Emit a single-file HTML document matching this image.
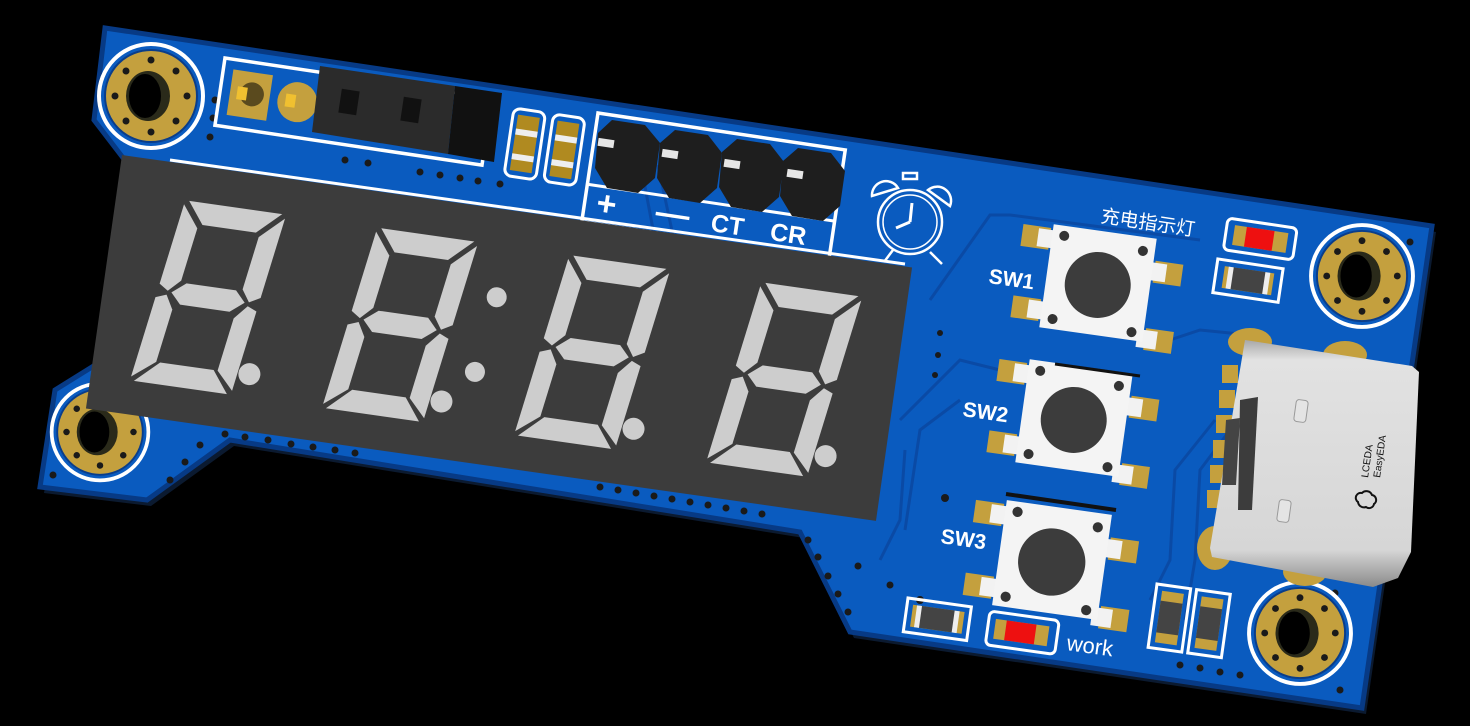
<!DOCTYPE html>
<html><head><meta charset="utf-8"><style>
html,body{margin:0;padding:0;background:#000;}
svg{display:block;}
</style></head><body>
<svg width="1470" height="726" viewBox="0 0 1470 726" xmlns="http://www.w3.org/2000/svg">
<defs>
<linearGradient id="usb" x1="0" y1="0" x2="0" y2="1">
<stop offset="0" stop-color="#a8a8a8"/><stop offset="0.08" stop-color="#e2e2e2"/><stop offset="0.85" stop-color="#d6d6d6"/><stop offset="1" stop-color="#8a8a8a"/>
</linearGradient>
<g id="seg">
<polygon points="4,0 98,0 78,22 24,22"/>
<polygon points="102,4 102,86 92,92 82,80 82,26"/>
<polygon points="102,100 102,182 82,164 82,110 92,96"/>
<polygon points="4,186 98,186 78,164 24,164"/>
<polygon points="0,100 0,182 20,164 20,110 10,96"/>
<polygon points="0,4 0,86 10,92 20,80 20,26"/>
<polygon points="14,93 26,82 76,82 88,93 76,104 26,104"/>
</g>
<g id="hole">
<circle r="52" fill="none" stroke="#fff" stroke-width="4"/>
<circle r="46" fill="#c4a03e" stroke="#0a3d8a" stroke-width="2"/>
<ellipse cx="-3" cy="0" rx="22" ry="25" fill="#2a2a1a"/>
<ellipse cx="-6" cy="0" rx="16" ry="22" fill="#000"/>
<g fill="#1a1a1a"><circle cx="0" cy="-36" r="3.5"/><circle cx="25" cy="-25" r="3.5"/><circle cx="36" cy="0" r="3.5"/><circle cx="25" cy="25" r="3.5"/><circle cx="0" cy="36" r="3.5"/><circle cx="-25" cy="25" r="3.5"/><circle cx="-36" cy="0" r="3.5"/><circle cx="-25" cy="-25" r="3.5"/></g>
</g>
<g id="sw">
<rect x="-82" y="-48" width="28" height="22" fill="#c4a03e"/>
<rect x="-82" y="24" width="28" height="22" fill="#c4a03e"/>
<rect x="54" y="-30" width="28" height="22" fill="#c4a03e"/>
<rect x="54" y="38" width="28" height="22" fill="#c4a03e"/>
<rect x="-66" y="-46" width="20" height="18" fill="#f2f2f2"/>
<rect x="-66" y="26" width="20" height="18" fill="#f2f2f2"/>
<rect x="46" y="-28" width="20" height="18" fill="#f2f2f2"/>
<rect x="46" y="40" width="20" height="18" fill="#f2f2f2"/>
<rect x="-52" y="-52" width="104" height="104" fill="#f4f4f4"/>
<circle cx="-40" cy="-42" r="5" fill="#333"/><circle cx="40" cy="-38" r="5" fill="#333"/>
<circle cx="-40" cy="42" r="5" fill="#333"/><circle cx="40" cy="44" r="5" fill="#333"/>
<circle cx="0" cy="2" r="33" fill="#3c3c3c"/>
</g>
</defs>

<!-- board shadow/edge -->
<polygon points="109,34 1436,232 1366,714 854,638 804,538 234,446 151,506 44,493 59,396 104,366 131,169 98,126" fill="#0b1a30"/>
<polygon points="105,28 1432,226 1362,708 850,632 800,532 230,440 147,500 40,487 55,390 100,362 127,163 94,120" fill="#0a5bbf" stroke="#073a85" stroke-width="5"/>

<!-- traces -->
<g fill="none" stroke="#0a4aa5" stroke-width="3">
<path d="M930,300 L990,215 L1010,215 L1200,240"/>
<path d="M900,420 L960,360 L1000,370"/>
<path d="M905,530 L920,430 L960,400"/>
<path d="M1170,340 L1200,330 L1250,335"/>
<path d="M1185,620 L1195,560 L1200,470 L1230,430"/>
<path d="M1150,600 L1170,560 L1175,470 L1215,420"/>
<path d="M880,560 L900,520 L905,450"/>
<path d="M380,440 L800,505"/>
<path d="M640,160 L655,240"/><path d="M658,165 L675,245"/>
</g>

<!-- vias -->
<g fill="#1a1a1a">
<circle cx="215" cy="100" r="3.5"/><circle cx="213" cy="118" r="3.5"/><circle cx="210" cy="137" r="3.5"/>
<circle cx="345" cy="160" r="3.5"/><circle cx="368" cy="163" r="3.5"/><circle cx="420" cy="172" r="3.5"/><circle cx="440" cy="175" r="3.5"/><circle cx="460" cy="178" r="3.5"/><circle cx="478" cy="181" r="3.5"/><circle cx="500" cy="184" r="3.5"/>
<circle cx="225" cy="434" r="3.5"/><circle cx="245" cy="437" r="3.5"/><circle cx="268" cy="440" r="3.5"/><circle cx="291" cy="444" r="3.5"/><circle cx="313" cy="447" r="3.5"/><circle cx="335" cy="450" r="3.5"/><circle cx="355" cy="453" r="3.5"/>
<circle cx="200" cy="445" r="3.5"/><circle cx="185" cy="462" r="3.5"/><circle cx="170" cy="480" r="3.5"/><circle cx="53" cy="475" r="3.5"/>
<circle cx="600" cy="487" r="3.5"/><circle cx="618" cy="490" r="3.5"/><circle cx="636" cy="493" r="3.5"/><circle cx="654" cy="496" r="3.5"/><circle cx="672" cy="499" r="3.5"/><circle cx="690" cy="502" r="3.5"/><circle cx="708" cy="505" r="3.5"/><circle cx="726" cy="508" r="3.5"/><circle cx="744" cy="511" r="3.5"/><circle cx="762" cy="514" r="3.5"/>
<circle cx="808" cy="540" r="3.5"/><circle cx="818" cy="557" r="3.5"/><circle cx="828" cy="576" r="3.5"/><circle cx="838" cy="594" r="3.5"/><circle cx="848" cy="612" r="3.5"/><circle cx="858" cy="566" r="3.5"/>
<circle cx="1180" cy="665" r="3.5"/><circle cx="1200" cy="668" r="3.5"/><circle cx="1220" cy="672" r="3.5"/><circle cx="1240" cy="675" r="3.5"/>
<circle cx="1410" cy="242" r="3.5"/><circle cx="1335" cy="593" r="3.5"/><circle cx="1340" cy="690" r="3.5"/>
<circle cx="940" cy="333" r="3"/><circle cx="938" cy="355" r="3"/><circle cx="935" cy="375" r="3"/><circle cx="920" cy="600" r="4"/><circle cx="945" cy="498" r="4"/><circle cx="890" cy="585" r="3.5"/>
</g>

<!-- mount holes -->
<use href="#hole" transform="translate(151,96)"/>
<use href="#hole" transform="translate(100,432) scale(0.93)"/>
<use href="#hole" transform="translate(1362,276) scale(0.98)"/>
<use href="#hole" transform="translate(1300,633) scale(0.98)"/>

<!-- jumper header -->
<g transform="translate(225,58) rotate(8.5)">
<rect x="0" y="0" width="270" height="68" fill="none" stroke="#fff" stroke-width="3.5"/>
<rect x="10" y="10" width="40" height="46" fill="#c4a03e"/>
<circle cx="32" cy="32" r="12" fill="#5a4a1e"/><rect x="17" y="26" width="10" height="13" fill="#f0c030"/>
<circle cx="78" cy="33" r="20" fill="#c4a03e"/><rect x="66" y="26" width="10" height="13" fill="#f0c030"/>
</g>
<polygon points="320,66 455,86 448,154 312,132" fill="#2b2b2b"/>
<polygon points="455,86 502,93 494,162 448,154" fill="#111"/>
<rect x="340" y="90" width="18" height="24" fill="#111" transform="rotate(8.5 349 102)"/>
<rect x="402" y="98" width="18" height="24" fill="#111" transform="rotate(8.5 411 110)"/>

<!-- caps -->
<g transform="translate(514,108) rotate(8.5)">
<rect x="0" y="0" width="32" height="68" rx="7" fill="#0a5bbf" stroke="#fff" stroke-width="3"/>
<rect x="5" y="6" width="22" height="56" fill="#b08a20"/><rect x="5" y="20" width="22" height="6" fill="#eee"/><rect x="5" y="45" width="22" height="6" fill="#eee"/>
<rect x="40" y="0" width="32" height="68" rx="7" fill="#0a5bbf" stroke="#fff" stroke-width="3"/>
<rect x="45" y="6" width="22" height="56" fill="#b08a20"/><rect x="45" y="20" width="22" height="6" fill="#eee"/><rect x="45" y="45" width="22" height="6" fill="#eee"/>
</g>

<!-- 4-pin header & labels -->
<g transform="translate(598,113) rotate(8.5)">
<rect x="0" y="0" width="250" height="110" fill="none" stroke="#fff" stroke-width="3.5"/>
<line x1="0" y1="72" x2="250" y2="72" stroke="#fff" stroke-width="3"/>
<g font-family="Liberation Sans, sans-serif" font-weight="bold" fill="#fff">
<text x="12" y="100" font-size="34">+</text>
<text x="72" y="100" font-size="34">—</text>
<text x="128" y="100" font-size="25">CT</text>
<text x="188" y="100" font-size="25">CR</text>
</g>
</g>
<g fill="#1e1e1e">
<polygon points="612,120 645,125 660,143 655,178 638,193 607,188 595,168 598,133"/>
<polygon points="675,130 708,135 722,153 717,188 700,203 669,198 657,178 660,143"/>
<polygon points="737,139 770,144 784,162 779,197 762,212 731,207 719,187 722,152"/>
<polygon points="798,148 831,153 845,171 840,206 823,221 792,216 780,196 783,161"/>
</g>
<g fill="#e6e6e6">
<rect x="598" y="139" width="16" height="8" transform="rotate(8.5 606 143)"/>
<rect x="662" y="150" width="16" height="8" transform="rotate(8.5 670 154)"/>
<rect x="724" y="160" width="16" height="8" transform="rotate(8.5 732 164)"/>
<rect x="787" y="170" width="16" height="8" transform="rotate(8.5 795 174)"/>
</g>

<!-- alarm clock -->
<g fill="none" stroke="#fff" stroke-width="2.5">
<circle cx="910" cy="222" r="32"/><circle cx="910" cy="222" r="27" stroke-width="1.5"/>
<path d="M910,222 L912,203 M910,222 L896,228" stroke-width="3"/>
<path d="M872,196 A14,14 0 0 1 898,188 Z"/><path d="M928,190 A14,14 0 0 1 950,206 Z"/>
<path d="M893,250 L884,262 M930,252 L942,264"/>
<rect x="903" y="173" width="14" height="6"/>
</g>

<!-- chinese label -->
<text x="1100" y="222" font-family="Liberation Sans, 'Noto Sans CJK SC', sans-serif" font-size="19" fill="#fff" transform="rotate(8.5 1100 222)">充电指示灯</text>

<!-- top right LED & resistor -->
<g transform="translate(1228,218) rotate(8.5)">
<rect x="0" y="0" width="70" height="32" rx="5" fill="none" stroke="#fff" stroke-width="3"/>
<rect x="8" y="6" width="54" height="20" fill="#c4a03e"/><rect x="20" y="6" width="28" height="20" fill="#ee1010"/>
<rect x="-4" y="42" width="66" height="34" fill="none" stroke="#fff" stroke-width="3"/>
<rect x="4" y="48" width="50" height="22" fill="#c4a03e"/><rect x="12" y="48" width="34" height="22" fill="#444"/><rect x="8" y="48" width="5" height="22" fill="#eee"/><rect x="45" y="48" width="5" height="22" fill="#eee"/>
</g>

<!-- switches -->
<use href="#sw" transform="translate(1098,283) rotate(8)"/>
<use href="#sw" transform="translate(1074,418) rotate(8)"/>
<use href="#sw" transform="translate(1052,560) rotate(8) scale(1.02)"/>
<line x1="1055" y1="364" x2="1140" y2="376" stroke="#111" stroke-width="3"/>
<line x1="1006" y1="494" x2="1116" y2="510" stroke="#111" stroke-width="4"/>
<g font-family="Liberation Sans, sans-serif" font-weight="bold" font-size="21" fill="#fff">
<text x="988" y="283" transform="rotate(8 988 283)">SW1</text>
<text x="962" y="416" transform="rotate(8 962 416)">SW2</text>
<text x="940" y="543" transform="rotate(8 940 543)">SW3</text>
</g>
<text x="1066" y="650" font-family="Liberation Sans, sans-serif" font-size="22" fill="#fff" transform="rotate(8 1066 650)">work</text>

<!-- bottom components -->
<g transform="translate(908,598) rotate(8)">
<rect x="0" y="0" width="64" height="34" fill="none" stroke="#fff" stroke-width="3"/>
<rect x="6" y="6" width="52" height="22" fill="#c4a03e"/><rect x="14" y="6" width="36" height="22" fill="#444"/><rect x="10" y="6" width="5" height="22" fill="#eee"/><rect x="48" y="6" width="5" height="22" fill="#eee"/>
</g>
<g transform="translate(990,611) rotate(8)">
<rect x="0" y="0" width="70" height="34" rx="5" fill="none" stroke="#fff" stroke-width="3"/>
<rect x="7" y="7" width="54" height="20" fill="#c4a03e"/><rect x="18" y="7" width="30" height="20" fill="#ee1010"/>
</g>
<g transform="translate(1157,584) rotate(8)">
<rect x="0" y="0" width="34" height="64" fill="none" stroke="#fff" stroke-width="3"/>
<rect x="6" y="6" width="22" height="52" fill="#c4a03e"/><rect x="6" y="16" width="22" height="32" fill="#444"/>
<rect x="40" y="0" width="34" height="64" fill="none" stroke="#fff" stroke-width="3"/>
<rect x="46" y="6" width="22" height="52" fill="#c4a03e"/><rect x="46" y="16" width="22" height="32" fill="#444"/>
</g>

<!-- USB-C -->
<g fill="#c4a03e">
<ellipse cx="1250" cy="342" rx="22" ry="14"/><ellipse cx="1345" cy="355" rx="22" ry="14"/>
<ellipse cx="1215" cy="548" rx="18" ry="22"/><ellipse cx="1305" cy="572" rx="22" ry="14"/>
<rect x="1222" y="365" width="16" height="18"/><rect x="1219" y="390" width="16" height="18"/><rect x="1216" y="415" width="16" height="18"/>
<rect x="1213" y="440" width="16" height="18"/><rect x="1210" y="465" width="16" height="18"/><rect x="1207" y="490" width="16" height="18"/>
</g>
<polygon points="1245,340 1412,366 1419,372 1411,552 1398,578 1373,587 1212,557 1210,548" fill="url(#usb)"/>
<polygon points="1240,400 1258,397 1252,510 1238,510" fill="#3c3c3c"/>
<polygon points="1226,420 1240,418 1236,485 1222,485" fill="#444"/>
<rect x="1295" y="400" width="12" height="22" rx="3" fill="#e4e4e4" stroke="#999" transform="rotate(8 1301 411)"/>
<rect x="1278" y="500" width="12" height="22" rx="3" fill="#e4e4e4" stroke="#999" transform="rotate(8 1284 511)"/>
<text x="0" y="0" font-family="Liberation Sans, sans-serif" font-size="10" fill="#111" transform="translate(1368,478) rotate(-82)">LCEDA</text>
<text x="0" y="0" font-family="Liberation Sans, sans-serif" font-size="10" fill="#111" transform="translate(1380,478) rotate(-82)">EasyEDA</text>
<path d="M1362,493 a6,6 0 0 1 10,2 a5,5 0 0 1 2,9 a5,5 0 0 1 -8,3 a6,6 0 0 1 -8,-5 a5,5 0 0 1 4,-9 z" fill="none" stroke="#111" stroke-width="2"/>

<!-- display -->
<line x1="170" y1="160" x2="905" y2="264" stroke="#fff" stroke-width="3"/>
<g transform="translate(122,155) rotate(8.1)">
<rect x="0" y="0" width="798" height="256" fill="#3c3c3c"/>
<g fill="#cdcdcd">
<use href="#seg" transform="translate(69,36) skewX(-9)"/>
<use href="#seg" transform="translate(263,36) skewX(-9)"/>
<use href="#seg" transform="translate(457,36) skewX(-9)"/>
<use href="#seg" transform="translate(651,36) skewX(-9)"/>
<circle cx="157" cy="199" r="11"/><circle cx="351" cy="199" r="11"/><circle cx="545" cy="199" r="11"/><circle cx="739" cy="199" r="11"/>
<circle cx="391" cy="88" r="10"/><circle cx="380" cy="165" r="10"/>
</g>
</g>
</svg>
</body></html>
